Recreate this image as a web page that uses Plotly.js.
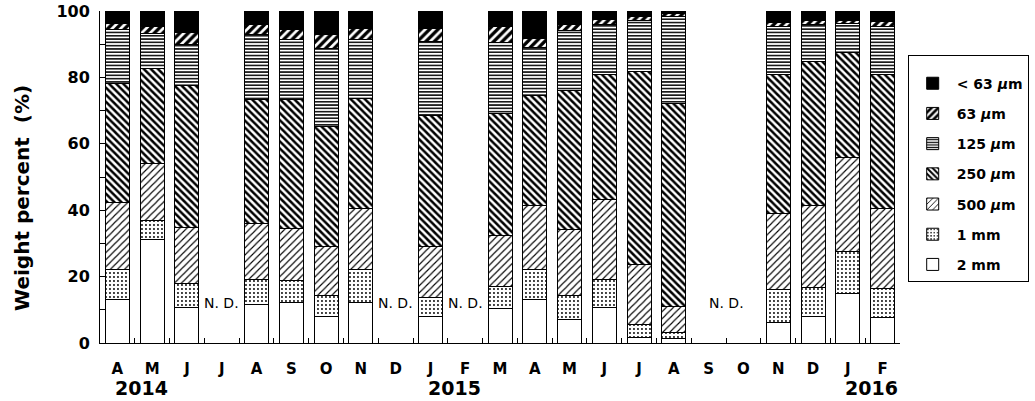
<!DOCTYPE html>
<html><head><meta charset="utf-8">
<script src="https://cdn.plot.ly/plotly-3.0.1.min.js"></script>
<style>html,body{margin:0;padding:0;background:#fff}</style>
</head><body><div id="chart" style="width:1035px;height:401px"></div>
<script>
// Month labels (April 2014 – February 2016)
const months = ['A','M','J','J','A','S','O','N','D','J','F','M','A','M','J','J','A','S','O','N','D','J','F'];
const yearLabels = ['2014','2015','2016'];
const yearIndex = [0, 9, 21];
// months with no data (S and O 2015 share one label)
const ndIndex = [3, 8, 10, 17.5];

// Weight percent of each size class (null = N.D.)
const s2mm   = [13.2,31.3,10.8,null,11.7,12.1,8.1,12.1,null,8.1,null,10.5,13.2,7.1,10.8,1.7,1.4,null,null,6.2,8.1,15.0,7.7];
const s1mm   = [8.8,5.7,7.2,null,7.3,6.6,6.1,9.9,null,5.5,null,6.5,9.0,7.1,8.4,4.0,1.7,null,null,9.8,8.7,12.5,8.8];
const s500   = [20.4,17.1,16.8,null,17.0,15.8,15.0,18.6,null,15.6,null,15.3,19.1,20.0,24.1,17.8,8.0,null,null,23.0,24.5,28.4,24.1];
const s250   = [35.8,28.6,42.9,null,37.2,38.9,36.0,33.1,null,39.2,null,36.9,33.2,41.8,37.7,58.2,61.1,null,null,42.0,43.4,31.5,40.4];
const s125   = [16.1,10.6,12.3,null,19.6,18.0,23.6,17.7,null,22.4,null,21.3,14.6,18.0,14.8,15.4,26.1,null,null,14.3,11.1,8.7,14.3];
const s63    = [2.0,2.0,3.6,null,3.0,3.1,4.0,3.4,null,4.0,null,4.8,2.7,1.8,1.5,1.2,0.8,null,null,1.2,1.3,1.0,1.5];
const sLt63  = [3.7,4.7,6.4,null,4.2,5.5,7.2,5.2,null,5.2,null,4.7,8.2,4.2,2.7,1.7,0.9,null,null,3.5,2.9,2.9,3.2];

const seriesNames = ['2 mm','1 mm','500 <i>μ</i>m','250 <i>μ</i>m','125 <i>μ</i>m','63 <i>μ</i>m','&lt; 63 <i>μ</i>m'];
const seriesValues = [s2mm, s1mm, s500, s250, s125, s63, sLt63];

// Fill styles (bottom to top)
const styles = [
  {color:'white'},
  {color:'white', pattern:{shape:'.', fgcolor:'black', bgcolor:'white', size:4, solidity:0.18}},
  {color:'white', pattern:{shape:'/', fgcolor:'black', bgcolor:'white', size:5, solidity:0.22}},
  {color:'white', pattern:{shape:'\\', fgcolor:'black', bgcolor:'white', size:5, solidity:0.5}},
  {color:'white', pattern:{shape:'-', fgcolor:'black', bgcolor:'white', size:3.3, solidity:0.45}},
  {color:'white', pattern:{shape:'/', fgcolor:'black', bgcolor:'white', size:6, solidity:0.55}},
  {color:'black'}
];

const FONT = 'DejaVu Sans, Liberation Sans, Arial, sans-serif';
const xIdx = months.map((m,i)=>i);

const traces = seriesValues.map((vals, k) => ({
  type:'bar', x:xIdx, y:vals, name:seriesNames[k], legendgroup:'g'+k,
  legendrank: seriesValues.length - k,
  marker:Object.assign({line:{color:'black', width:1}}, styles[k]),
  hoverinfo:'skip'
}));

const annotations = [];
yearLabels.forEach((t,i)=>annotations.push({
  text:t, x:yearIndex[i]-0.14, xref:'x', xanchor:'left',
  y:-0.135, yref:'paper', yanchor:'middle', showarrow:false,
  font:{family:FONT, size:19, color:'black', weight:700}
}));
ndIndex.forEach(p=>annotations.push({
  text:'N. D.', x:p, xref:'x', xanchor:'center', y:12.2, yref:'y', yanchor:'middle',
  showarrow:false, font:{family:FONT, size:14, color:'black'}
}));
annotations.push({
  text:'Weight percent  (%)', textangle:-90, x:-0.0975, xref:'paper', xanchor:'center',
  y:0.437, yref:'paper', yanchor:'middle', showarrow:false,
  font:{family:FONT, size:20, color:'black', weight:700}
});

const yVals = [0,10,20,30,40,50,60,70,80,90,100];
const yText = yVals.map(v => v % 20 === 0 ? String(v) : '');

const layout = {
  width:1035, height:401,
  margin:{l:100, r:135, t:11, b:58},
  paper_bgcolor:'white', plot_bgcolor:'white',
  barmode:'stack', bargap:0.31,
  showlegend:true,
  legend:{
    xref:'container', yref:'container',
    x:0.877, xanchor:'left', y:0.863, yanchor:'top',
    maxheight:320,
    traceorder:'grouped', tracegroupgap:9, itemwidth:38,
    title:{text:' ', font:{size:9}},
    bordercolor:'black', borderwidth:1, bgcolor:'white',
    font:{family:FONT, size:14, color:'black', weight:700}
  },
  xaxis:{
    range:[-0.5, 22.5], tickmode:'array', tickvals:xIdx, ticktext:months,
    ticks:'', showgrid:false, zeroline:false,
    showline:true, linecolor:'black', linewidth:1,
    ticklabelstandoff:12,
    tickfont:{family:FONT, size:15, color:'black', weight:700},
    minor:{tickmode:'array', tickvals:xIdx.slice(0,22).map(i=>i+0.5), ticks:'inside', ticklen:5, tickcolor:'black', tickwidth:1, showgrid:false}
  },
  yaxis:{
    range:[0,100], tickmode:'array', tickvals:yVals, ticktext:yText,
    ticks:'inside', ticklen:5, tickcolor:'black', tickwidth:1,
    showgrid:false, zeroline:false,
    showline:true, linecolor:'black', linewidth:1,
    ticklabelstandoff:6,
    tickfont:{family:FONT, size:16, color:'black', weight:700}
  },
  annotations:annotations
};

Plotly.newPlot('chart', traces, layout, {displayModeBar:false, staticPlot:true});
</script>
</body></html>
